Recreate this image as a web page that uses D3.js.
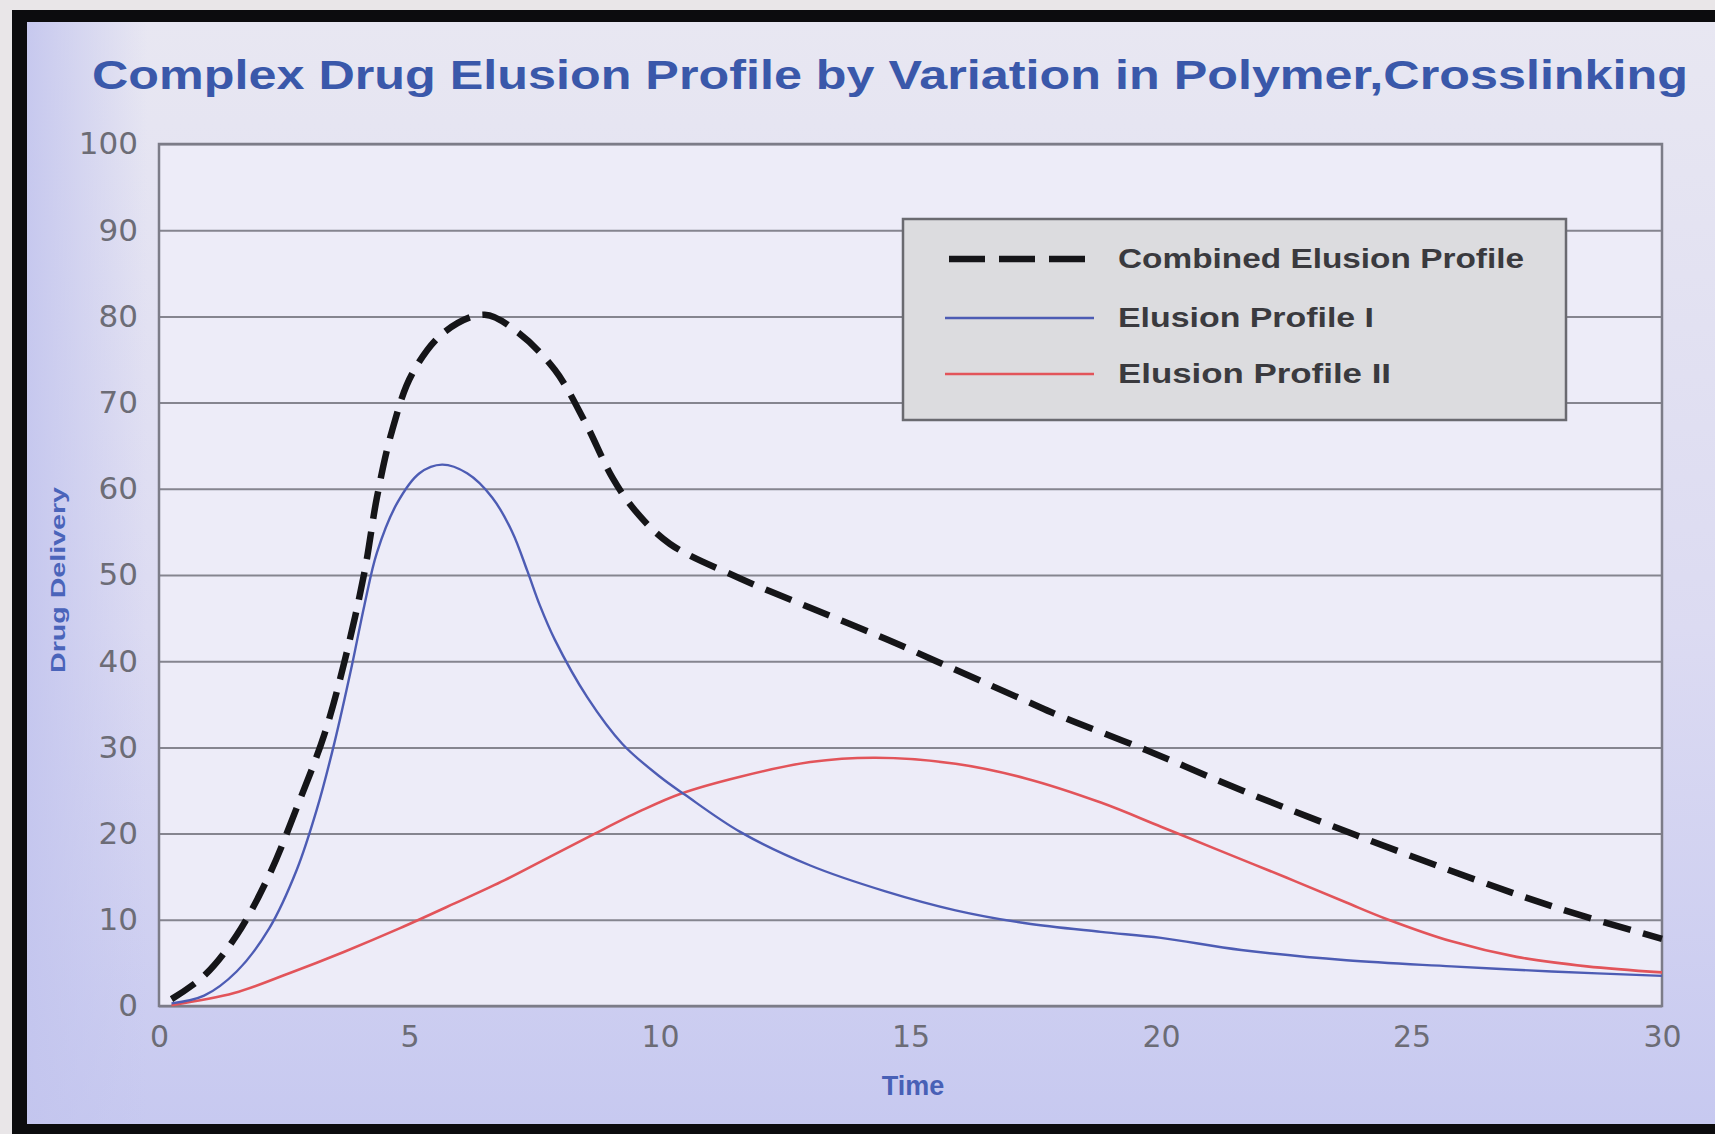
<!DOCTYPE html>
<html lang="en">
<head>
<meta charset="UTF-8">
<title>Complex Drug Elusion Profile</title>
<script src="https://d3js.org/d3.v7.min.js"></script>
<style>
  html, body { margin: 0; padding: 0; background: #e9e6e8; }
  svg { display: block; }
</style>
</head>
<body>
<div id="chart"></div>
<script>
// values
const xTicks = [0, 5, 10, 15, 20, 25, 30];
const yTicks = [0, 10, 20, 30, 40, 50, 60, 70, 80, 90, 100];

const combinedTime = [0.25, 0.9, 1.55, 2.2, 2.75, 3.3, 3.7, 4.1, 4.35, 4.65, 5.05, 5.7, 6.5, 7.15, 7.9, 8.5, 9.05, 9.5, 10.2, 11.6, 13.0, 14.5, 15.9, 17.3, 18.0, 19.7, 21.7, 23.9, 26.3, 28.0, 30];
const combinedValue = [0.8, 3.5, 8.2, 15.2, 23.0, 31.5, 39.9, 50.3, 59.0, 66.7, 73.3, 78.2, 80.2, 78.2, 73.8, 67.8, 61.3, 57.5, 53.6, 49.6, 46.2, 42.6, 39.0, 35.4, 33.6, 29.7, 24.8, 19.8, 14.6, 11.2, 7.8];

const profileITime = [0.25, 0.9, 1.55, 2.2, 2.75, 3.15, 3.5, 3.85, 4.1, 4.35, 4.75, 5.2, 5.65, 6.15, 6.65, 7.05, 7.35, 7.6, 7.9, 8.55, 9.25, 10.0, 10.5, 11.6, 13.0, 14.5, 15.9, 17.3, 18.8, 20.0, 21.6, 23.7, 25.8, 27.8, 30];
const profileIValue = [0.3, 1.2, 4.0, 9.0, 15.8, 22.8, 30.5, 39.5, 46.5, 52.6, 58.3, 61.8, 62.8, 61.8, 59.0, 55.0, 50.5, 46.5, 42.5, 35.8, 30.4, 26.6, 24.5, 20.2, 16.3, 13.3, 11.1, 9.6, 8.6, 7.9, 6.5, 5.3, 4.6, 4.0, 3.5];

const profileIITime = [0.25, 1.5, 2.6, 3.7, 4.8, 5.9, 6.9, 7.8, 8.7, 9.6, 10.4, 11.6, 13.0, 14.3, 15.9, 17.3, 18.8, 20.0, 21.1, 22.5, 23.7, 24.5, 25.8, 27.1, 28.5, 30];
const profileIIValue = [0.1, 1.5, 3.8, 6.3, 9.0, 11.9, 14.6, 17.3, 20.0, 22.6, 24.6, 26.6, 28.3, 28.8, 28.1, 26.4, 23.6, 20.8, 18.2, 14.9, 12.0, 10.1, 7.5, 5.7, 4.6, 3.9];

const legendLabels = ["Combined Elusion Profile", "Elusion Profile I", "Elusion Profile II"];

const width = 1715, height = 1134;
const plot = { left: 159, right: 1662, top: 144, bottom: 1006 };

const svg = d3.select("#chart").append("svg")
    .attr("width", width)
    .attr("height", height)
    .attr("viewBox", [0, 0, width, height]);

const defs = svg.append("defs");
const bg = defs.append("linearGradient").attr("id", "bg").attr("x1", 0).attr("y1", 0).attr("x2", 0).attr("y2", 1);
bg.append("stop").attr("offset", "0%").attr("stop-color", "#e8e7f2");
bg.append("stop").attr("offset", "55%").attr("stop-color", "#dcdbf2");
bg.append("stop").attr("offset", "100%").attr("stop-color", "#c7c9f0");
const side = defs.append("linearGradient").attr("id", "side").attr("x1", 0).attr("y1", 0).attr("x2", 1).attr("y2", 0);
side.append("stop").attr("offset", "0%").attr("stop-color", "#c3c5ee").attr("stop-opacity", 0.9);
side.append("stop").attr("offset", "100%").attr("stop-color", "#c3c5ee").attr("stop-opacity", 0);

// photo frame
svg.append("rect").attr("x", 12).attr("y", 10).attr("width", width - 12).attr("height", height - 10).attr("fill", "#0c0c0e");
svg.append("rect").attr("x", 27).attr("y", 22).attr("width", width - 27).attr("height", 1102).attr("fill", "url(#bg)");
svg.append("rect").attr("x", 27).attr("y", 22).attr("width", 120).attr("height", 1102).attr("fill", "url(#side)");

const x = d3.scaleLinear().domain([0, 30]).range([plot.left, plot.right]);
const y = d3.scaleLinear().domain([0, 100]).range([plot.bottom, plot.top]);

svg.append("rect")
    .attr("x", plot.left).attr("y", plot.top)
    .attr("width", plot.right - plot.left).attr("height", plot.bottom - plot.top)
    .attr("fill", "#edecf8");

// gridlines
svg.append("g")
    .attr("transform", `translate(${plot.left},0)`)
    .call(d3.axisLeft(y).tickValues(yTicks).tickSize(-(plot.right - plot.left)).tickFormat(""))
    .call(g => g.select(".domain").remove())
    .call(g => g.selectAll(".tick line").attr("stroke", "#85858f").attr("stroke-width", 2));

svg.append("rect")
    .attr("x", plot.left).attr("y", plot.top)
    .attr("width", plot.right - plot.left).attr("height", plot.bottom - plot.top)
    .attr("fill", "none").attr("stroke", "#7c7c88").attr("stroke-width", 2.5);

// tick labels
svg.append("g")
    .attr("transform", `translate(${plot.left - 21},0)`)
    .call(d3.axisLeft(y).tickValues(yTicks).tickSize(0).tickPadding(0))
    .call(g => g.select(".domain").remove())
    .call(g => g.selectAll("text")
        .attr("fill", "#6c6c76").attr("font-size", 31)
        .attr("font-family", "DejaVu Sans, sans-serif"));

svg.append("g")
    .attr("transform", `translate(0,${plot.bottom + 20})`)
    .call(d3.axisBottom(x).tickValues(xTicks).tickSize(0).tickPadding(0))
    .call(g => g.select(".domain").remove())
    .call(g => g.selectAll("text")
        .attr("fill", "#6c6c76").attr("font-size", 30)
        .attr("font-family", "DejaVu Sans, sans-serif"));

// curves
const line = d3.line().x(d => x(d[0])).y(d => y(d[1])).curve(d3.curveCatmullRom.alpha(0.5));

svg.append("path")
    .attr("d", line(d3.zip(profileIITime, profileIIValue)))
    .attr("fill", "none").attr("stroke", "#e2545a").attr("stroke-width", 2.6);

svg.append("path")
    .attr("d", line(d3.zip(profileITime, profileIValue)))
    .attr("fill", "none").attr("stroke", "#4d5cb4").attr("stroke-width", 2.4);

svg.append("path")
    .attr("d", line(d3.zip(combinedTime, combinedValue)))
    .attr("fill", "none").attr("stroke", "#151518").attr("stroke-width", 6.5)
    .attr("stroke-dasharray", "28,13");

// titles
svg.append("text")
    .attr("x", 92).attr("y", 89)
    .attr("textLength", 1596).attr("lengthAdjust", "spacingAndGlyphs")
    .attr("font-family", "Liberation Sans, Arial, sans-serif")
    .attr("font-weight", "bold").attr("font-size", 41)
    .attr("fill", "#3a58aa")
    .text("Complex Drug Elusion Profile by Variation in Polymer,Crosslinking");

svg.append("text")
    .attr("x", 913).attr("y", 1095)
    .attr("text-anchor", "middle")
    .attr("font-family", "Liberation Sans, Arial, sans-serif")
    .attr("font-weight", "bold").attr("font-size", 27)
    .attr("fill", "#4860b6")
    .text("Time");

svg.append("text")
    .attr("transform", "translate(65,580) rotate(-90)")
    .attr("text-anchor", "middle")
    .attr("textLength", 186).attr("lengthAdjust", "spacingAndGlyphs")
    .attr("font-family", "Liberation Sans, Arial, sans-serif")
    .attr("font-weight", "bold").attr("font-size", 21)
    .attr("fill", "#4a64ba")
    .text("Drug Delivery");

// legend
const legend = svg.append("g").attr("transform", "translate(903,219)");
legend.append("rect")
    .attr("width", 663).attr("height", 201)
    .attr("fill", "#dcdcdf").attr("stroke", "#6a6a70").attr("stroke-width", 2.5);

const legendStyles = [
    { stroke: "#151518", width: 6.5, dash: "36,14" },
    { stroke: "#4d5cb4", width: 2.4, dash: null },
    { stroke: "#e2545a", width: 2.6, dash: null }
];
const legendRowY = [40, 99, 155];
const legendTextLen = [406, 256, 273];

legendLabels.forEach((label, i) => {
    const row = legend.append("g").attr("transform", `translate(0,${legendRowY[i]})`);
    row.append("line")
        .attr("x1", i === 0 ? 46 : 42).attr("x2", i === 0 ? 186 : 191)
        .attr("stroke", legendStyles[i].stroke)
        .attr("stroke-width", legendStyles[i].width)
        .attr("stroke-dasharray", legendStyles[i].dash);
    row.append("text")
        .attr("x", 215).attr("dy", "0.35em")
        .attr("textLength", legendTextLen[i]).attr("lengthAdjust", "spacingAndGlyphs")
        .attr("font-family", "Liberation Sans, Arial, sans-serif")
        .attr("font-weight", "bold").attr("font-size", 27)
        .attr("fill", "#3a3a3e")
        .text(label);
});
</script>
</body>
</html>
